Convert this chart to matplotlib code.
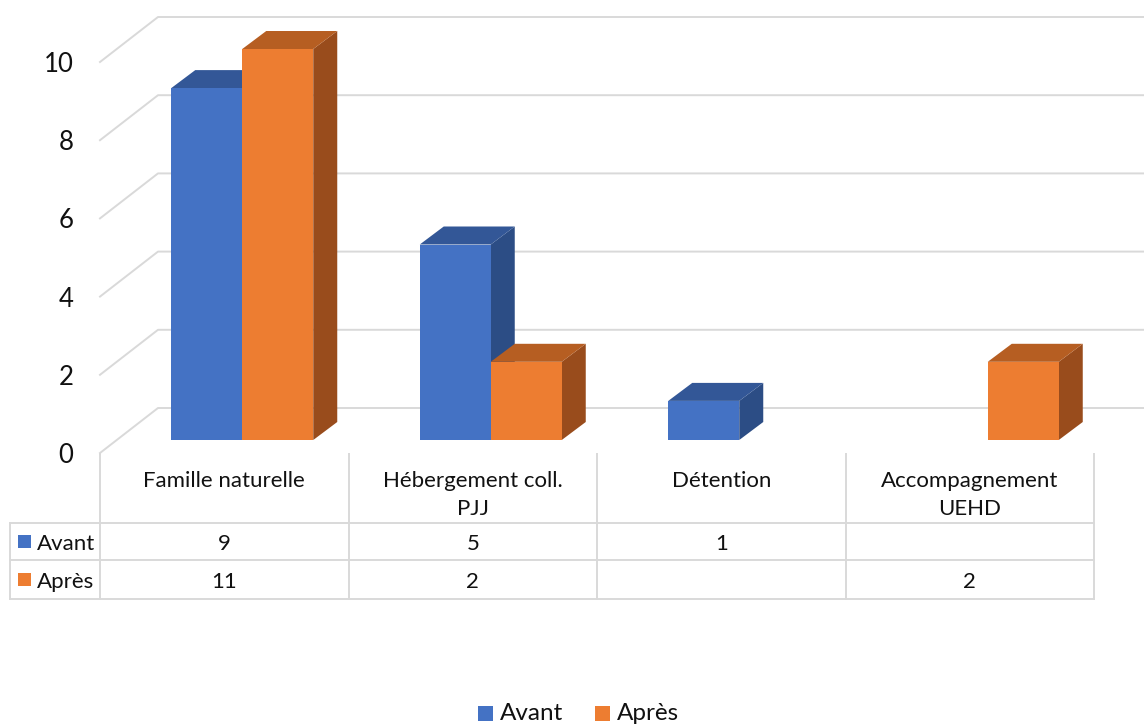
import numpy as np
import matplotlib
matplotlib.use("Agg")
import matplotlib.pyplot as plt
from matplotlib.patches import Polygon, Rectangle
from matplotlib.lines import Line2D

# ---- data -------------------------------------------------------------
categories = ["Famille naturelle", "Hébergement coll.\nPJJ", "Détention", "Accompagnement\nUEHD"]
series_names = ["Avant", "Après"]
avant = [9, 5, 1, np.nan]
apres = [11, 2, np.nan, 2]
y_ticks = [0, 2, 4, 6, 8, 10]

# ---- styling ------------------------------------------------------------
FONT = ["Lato", "DejaVu Sans"]
plt.rcParams["font.family"] = FONT
front_cols = ["#4472C4", "#ED7D31"]
top_cols = ["#335797", "#B65E22"]
side_cols = ["#2C4D85", "#994C1C"]
grid_col = "#D9D9D9"
text_col = "#111111"

W, H = 1144, 726
fig = plt.figure(figsize=(W / 100, H / 100), dpi=100)


def P(x, y):
    """Pixel position (from top-left) -> figure fraction."""
    return x / W, 1 - y / H


# plot area: category axis 0..4 across the front plane, values 0..10
ax = fig.add_axes([100 / W, (H - 453) / H, 994 / W, 391 / H])
ymax = 10
ax.set_xlim(0, len(categories))
ax.set_ylim(0, ymax)
for s in ax.spines.values():
    s.set_visible(False)
ax.set_xticks([])
ax.set_yticks(y_ticks)
ax.tick_params(axis="y", length=0, pad=19, labelsize=18.5, labelcolor=text_col)
ax.patch.set_visible(False)

# oblique depth offsets, expressed in data units
px_x = 994 / len(categories)  # pixels per category unit
px_y = 391 / ymax             # pixels per value unit
wall_dx, wall_dy = 58 / px_x, 45 / px_y
front_dx, front_dy = 18 / px_x, 13 / px_y
bar_dx, bar_dy = 24 / px_x, 18 / px_y
bar_w = 1 / 3.5

# gridlines: left wall diagonal + back wall horizontal
for v in y_ticks:
    ax.add_line(Line2D([0, wall_dx, len(categories) + wall_dx],
                       [v, v + wall_dy, v + wall_dy],
                       color=grid_col, lw=1.4, clip_on=False, zorder=1))

# 3D-looking columns
series = [avant, apres]
for i in range(len(categories)):
    c = i + 0.5 + front_dx
    for k, vals in enumerate(series):
        v = vals[i]
        if np.isnan(v):
            continue
        h = min(v, ymax)
        x0 = c - bar_w + k * bar_w
        x1 = x0 + bar_w
        y0 = front_dy
        y1 = front_dy + h
        side = [(x1, y0), (x1 + bar_dx, y0 + bar_dy), (x1 + bar_dx, y1 + bar_dy), (x1, y1)]
        top = [(x0, y1), (x1, y1), (x1 + bar_dx, y1 + bar_dy), (x0 + bar_dx, y1 + bar_dy)]
        ax.add_patch(Polygon(side, closed=True, fc=side_cols[k], ec="none", clip_on=False, zorder=3))
        ax.add_patch(Polygon(top, closed=True, fc=top_cols[k], ec="none", clip_on=False, zorder=3))
        ax.add_patch(Rectangle((x0, y0), bar_w, h, fc=front_cols[k], ec="none", clip_on=False, zorder=3))

# ---- data table -----------------------------------------------------------
col_x = [100 + j * 994 / len(categories) for j in range(len(categories) + 1)]
tl = dict(color=grid_col, lw=1.4, transform=fig.transFigure)
for xx in col_x:
    fig.add_artist(Line2D(*zip(P(xx, 454), P(xx, 599)), **tl))
fig.add_artist(Line2D(*zip(P(10, 523), P(10, 599)), **tl))
for yy in (523, 560, 599):
    fig.add_artist(Line2D(*zip(P(10, yy), P(col_x[-1], yy)), **tl))

for j, name in enumerate(categories):
    cx = (col_x[j] + col_x[j + 1]) / 2
    for n, line in enumerate(name.split("\n")):
        fig.text(*P(cx, 487 + 28 * n), line, ha="center", va="baseline",
                 fontsize=16, color=text_col)

row_base = [550, 588]
for k, vals in enumerate(series):
    yb = row_base[k]
    fig.add_artist(Rectangle(P(18, yb - 2), 13 / W, 13 / H, fc=front_cols[k], ec="none",
                             transform=fig.transFigure))
    fig.text(*P(37, yb), series_names[k], ha="left", va="baseline", fontsize=16, color=text_col)
    for j, v in enumerate(vals):
        if np.isnan(v):
            continue
        cx = (col_x[j] + col_x[j + 1]) / 2
        fig.text(*P(cx, yb), f"{v:g}", ha="center", va="baseline", fontsize=16, color=text_col)

# ---- legend ------------------------------------------------------------------
leg_pos = [(478, 500), (595, 617)]
for k, (sx, tx) in enumerate(leg_pos):
    fig.add_artist(Rectangle(P(sx, 721), 15 / W, 15 / H, fc=front_cols[k], ec="none",
                             transform=fig.transFigure))
    fig.text(*P(tx, 720), series_names[k], ha="left", va="baseline", fontsize=17.5, color=text_col)

fig.savefig("out.png", dpi=100)
